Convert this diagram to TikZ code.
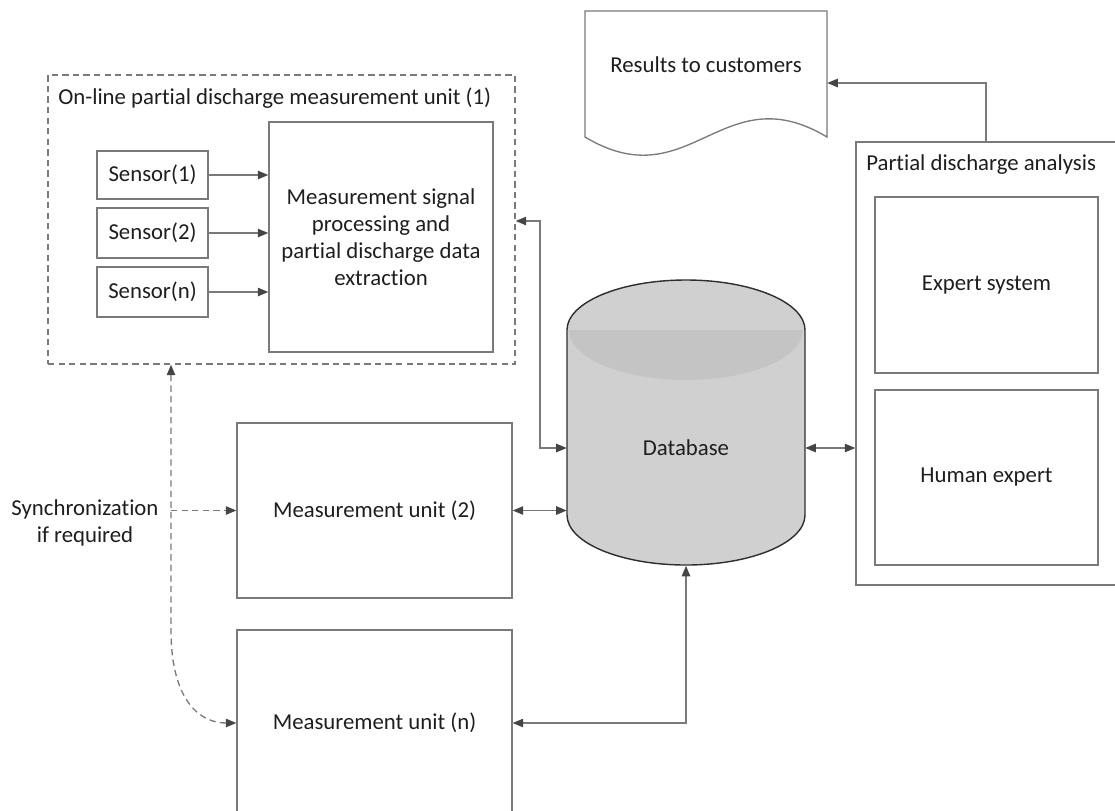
\documentclass[tikz,border=0pt]{standalone}
\usepackage{fontspec}
\setmainfont{Carlito}[Ligatures=CommonOff]
\usetikzlibrary{arrows.meta,calc}
\definecolor{linec}{HTML}{7A7A7A}
\definecolor{tipc}{HTML}{454545}
\definecolor{txtc}{HTML}{1E1E1E}
\definecolor{dbfill}{HTML}{D0D0D0}
\definecolor{dbband}{HTML}{C4C4C4}
\definecolor{dbline}{HTML}{2E2E2E}
\begin{document}
\begin{tikzpicture}[x=0.025cm,y=-0.025cm,
  font=\fontsize{16.2pt}{19.2pt}\selectfont, text=txtc,
  >={Triangle[length=7.5pt,width=6pt,color=tipc]},
  sz/.style 2 args={minimum width=#1*0.025cm, minimum height=#2*0.025cm},
  box/.style={draw=linec, line width=0.95pt, inner sep=0pt, align=center},
  conn/.style={draw=linec, line width=0.95pt},
  dconn/.style={conn, dash pattern=on 4.5pt off 3pt},
  lbl/.style={inner sep=0pt, align=center}]
\useasboundingbox (0,0) rectangle (1115,810);

% ---- on-line unit (1)
\node[box, sz={467}{289}, dash pattern=on 4.5pt off 3pt] (unit1) at (281.5,219.5) {};
\node[lbl, anchor=west] (unit1title) at (58,98) {On-line partial discharge measurement unit (1)};
\node[box, sz={224}{230}] (proc) at (381,237) {Measurement signal\\processing and\\partial discharge data\\extraction};
\node[box, sz={111}{48}] (s1) at (152.5,175) {Sensor(1)};
\node[box, sz={111}{50}] (s2) at (152.5,233) {Sensor(2)};
\node[box, sz={111}{50}] (sn) at (152.5,292) {Sensor(n)};
\draw[conn,->] (s1.east) -- (s1.east -| proc.west);
\draw[conn,->] (s2.east) -- (s2.east -| proc.west);
\draw[conn,->] (sn.east) -- (sn.east -| proc.west);

% ---- measurement units
\node[box, sz={275}{175}] (mu2) at (374.5,510.5) {Measurement unit (2)};
\node[box, sz={275}{186}] (mun) at (374.5,723) {Measurement unit (n)};

% ---- database
\fill[dbfill] (567,330) .. controls (567,302.4) and (620.3,280) .. (686,280)
  .. controls (751.7,280) and (805,302.4) .. (805,330) -- (805,515)
  .. controls (805,542.6) and (751.7,565) .. (686,565)
  .. controls (620.3,565) and (567,542.6) .. (567,515) -- cycle;
\fill[dbband] (569,330) .. controls (569,357.6) and (621.4,380) .. (686,380)
  .. controls (750.6,380) and (803,357.6) .. (803,330) -- cycle;
\draw[dbline, line width=1pt] (567,330) .. controls (567,302.4) and (620.3,280) .. (686,280)
  .. controls (751.7,280) and (805,302.4) .. (805,330) -- (805,515)
  .. controls (805,542.6) and (751.7,565) .. (686,565)
  .. controls (620.3,565) and (567,542.6) .. (567,515) -- cycle;
\node[sz={238}{286}, inner sep=0pt] (db) at (686,422.5) {};
\node[lbl] (dbt) at (686,448) {Database};

% ---- analysis
\node[box, sz={274}{443}] (pda) at (993,363.5) {};
\node[lbl, anchor=west] (pdatitle) at (866,165) {Partial discharge analysis};
\node[box, sz={223}{176}] (exp) at (986.5,285) {Expert system};
\node[box, sz={223}{175}] (hum) at (986.5,477.5) {Human expert};

% ---- document
\node[sz={242}{126}, inner sep=0pt] (doc) at (706,74) {};
\draw[linec, line width=0.95pt, fill=white] (585,137) -- (585,11) -- (827,11) -- (827,137)
  .. controls (722,74) and (690,200) .. (585,137) -- cycle;
\node[lbl] (doct) at (706,65) {Results to customers};

% ---- connectors
\coordinate (j1) at (540,221);
\draw[conn,<->] (dbt -| db.west) -| (j1) -- (j1 -| unit1.east);
\draw[conn,<->] (mu2.east) -- (mu2.east -| db.west);
\draw[conn,<->] (db.south) |- (mun.east);
\draw[conn,<->] (dbt -| db.east) -- (dbt -| pda.west);
\coordinate (j2) at (986,83);
\draw[conn,->] (j2 |- pda.north) -- (j2) -- (j2 -| doc.east);

% ---- synchronization
\coordinate (sc) at (171,630);
\draw[dconn,<->] (unit1.south -| sc) -- (sc) .. controls +(0,70) and +(-37,0) .. (mun.west);
\draw[dconn,->] (mu2.west -| sc) -- (mu2.west);
\node[lbl] (sync) at (85,523) {Synchronization\\if required};
\end{tikzpicture}
\end{document}
